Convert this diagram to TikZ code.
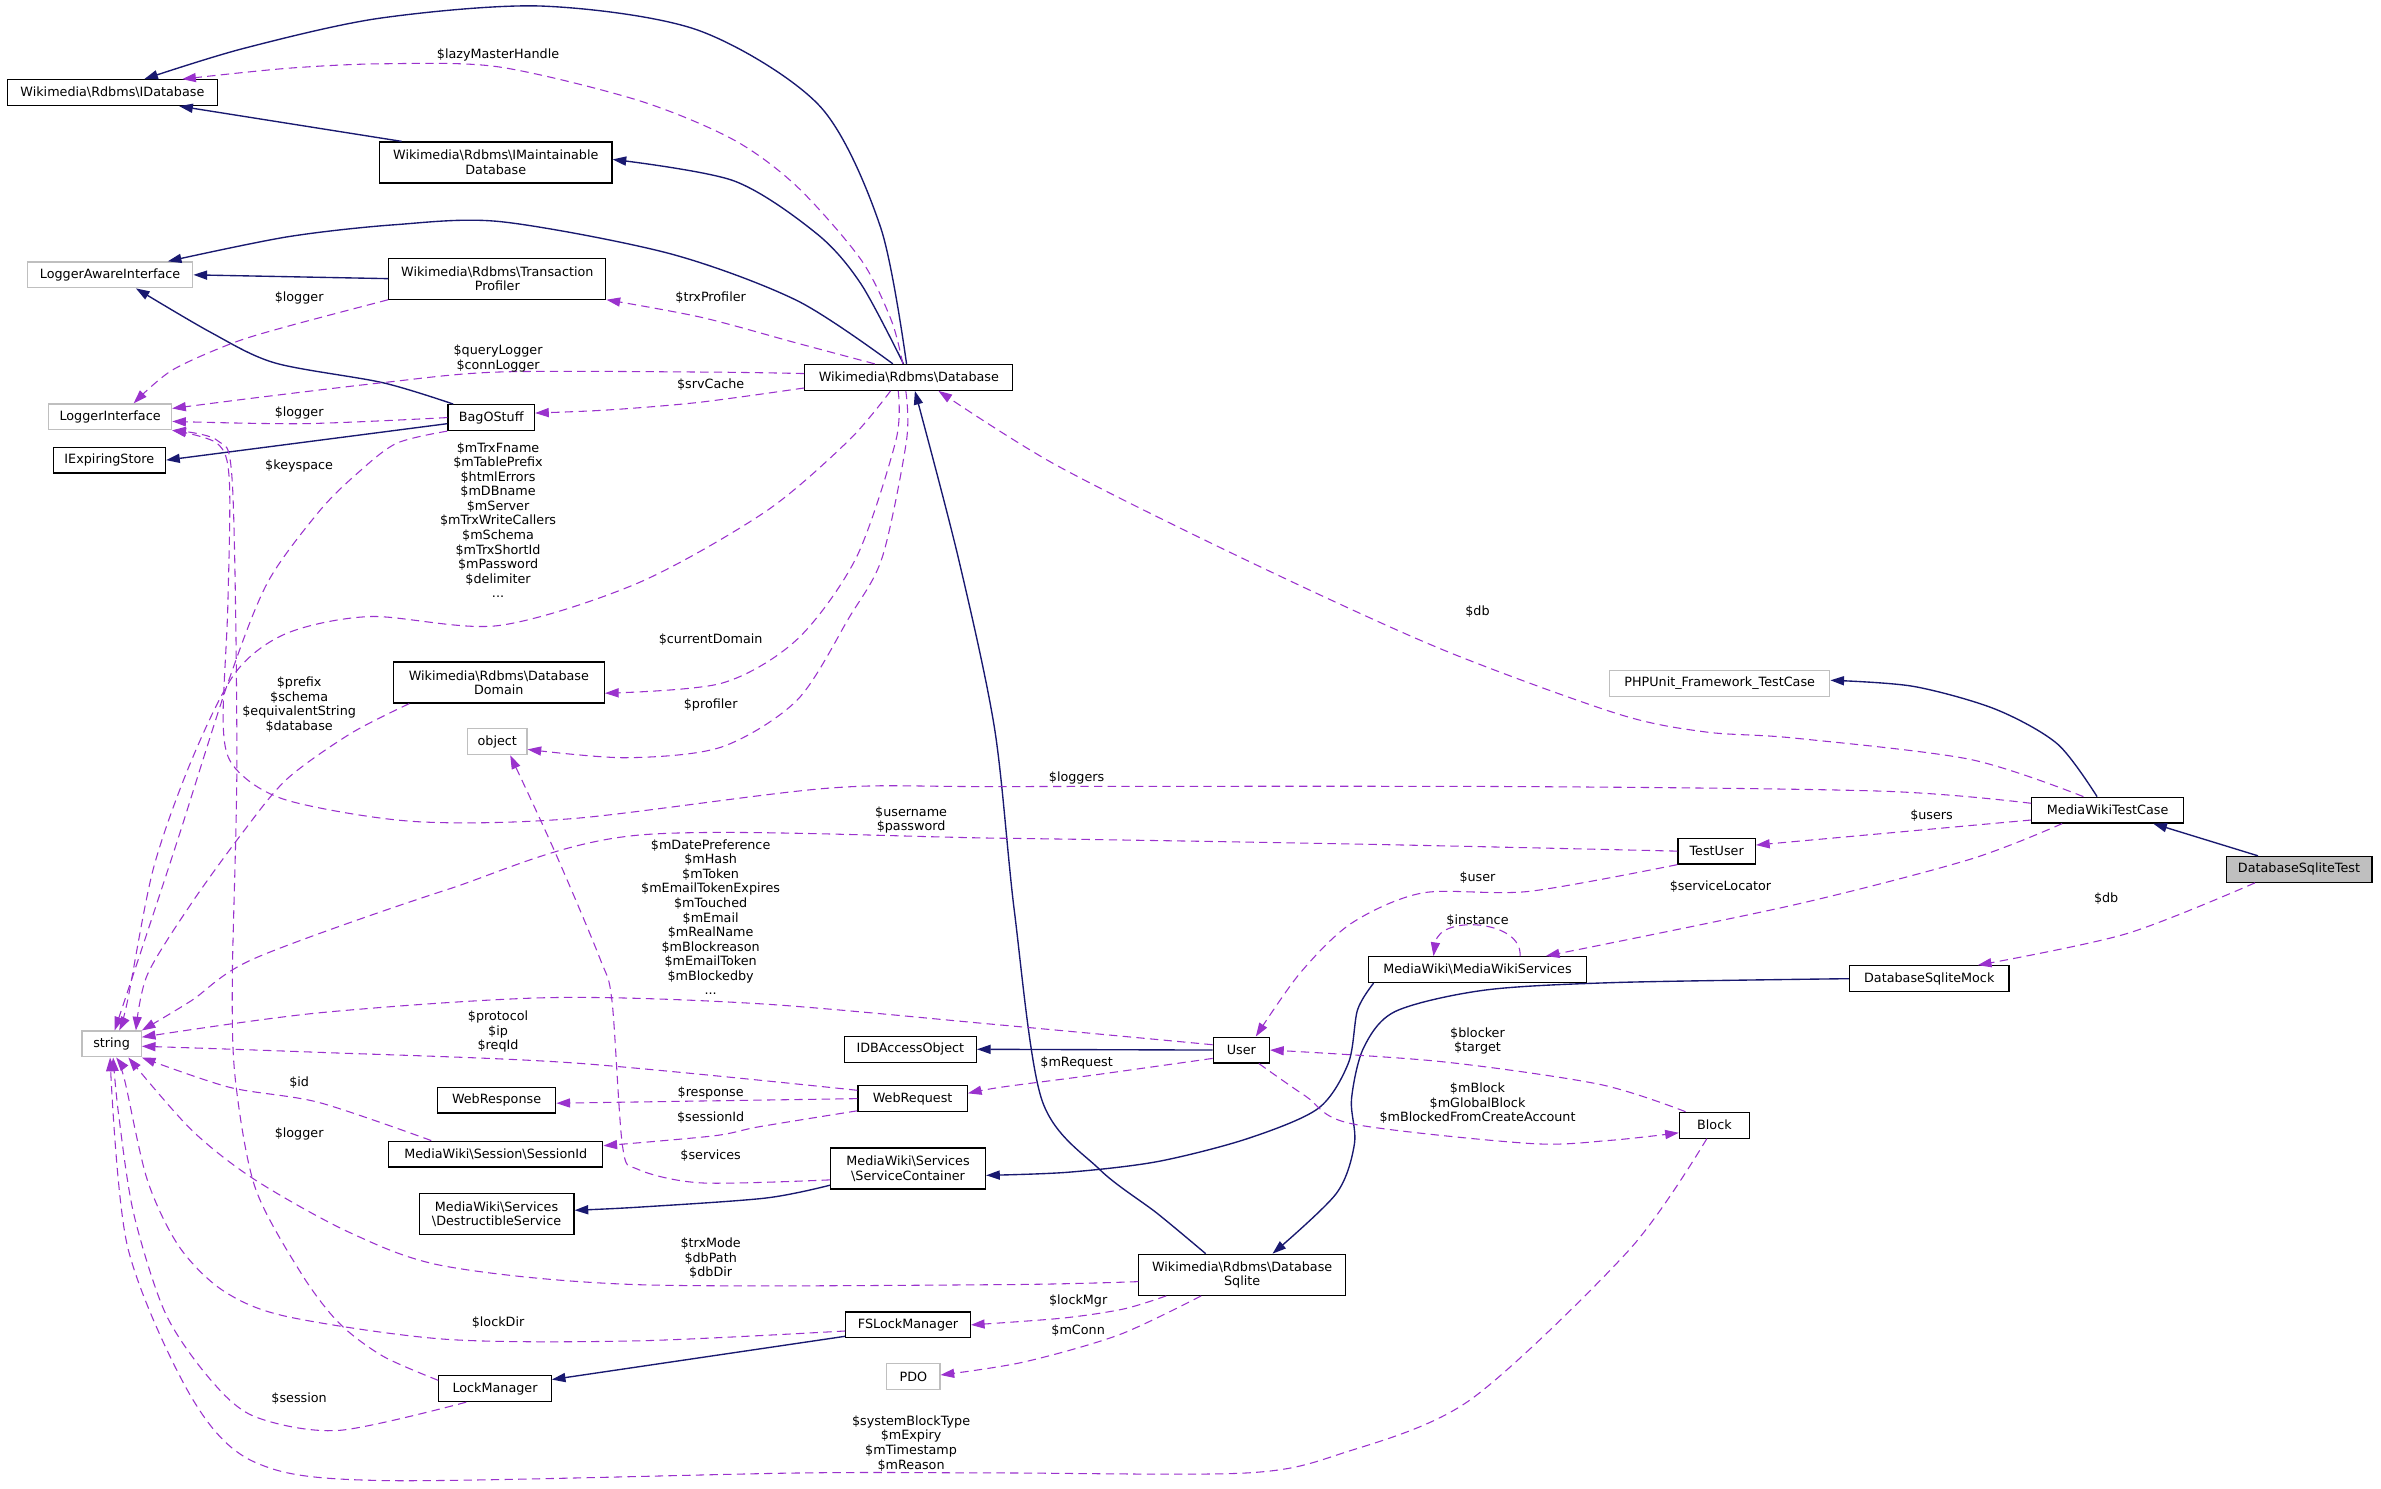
\documentclass[tikz,border=0pt]{standalone}
\usepackage{fontspec}
\setmainfont{DejaVu Sans}
\usetikzlibrary{arrows.meta}
\definecolor{inhblue}{RGB}{25,25,112}
\definecolor{usepurple}{RGB}{154,50,205}
\definecolor{extgray}{RGB}{191,191,191}
\newcommand{\bsl}{\textbackslash}
\newcommand{\lblfont}{\fontsize{8.4}{9.6}\selectfont}
\tikzset{
  cls/.style={draw=black, line width=0.8pt, fill=white, minimum height=17pt, inner xsep=2pt, inner ysep=2pt, align=center, font=\lblfont},
  tall/.style={minimum height=27pt},
  ext/.style={cls, draw=extgray},
  focus/.style={cls, fill=extgray},
  inh/.style={draw=inhblue, line width=0.9pt, -{Triangle[length=9pt,width=6pt]}},
  use/.style={draw=usepurple, line width=0.7pt, dash pattern=on 5.5pt off 3.5pt, -{Triangle[length=9pt,width=6pt]}},
  lbl/.style={font=\lblfont, align=center, inner sep=0pt}
}

\begin{document}
\begin{tikzpicture}[x=1pt, y=-1pt]
  \path[use as bounding box, fill=white] (0,0) rectangle (1568,980);

  % Classes
  \node[cls, minimum width=138pt] (idb) at (74,61) {Wikimedia\bsl Rdbms\bsl IDatabase};
  \node[cls, tall, minimum width=153pt] (imaint) at (326.5,107) {Wikimedia\bsl Rdbms\bsl IMaintainable\\Database};
  \node[ext, minimum width=109pt] (lai) at (72.5,181) {LoggerAwareInterface};
  \node[cls, tall, minimum width=143pt] (tprof) at (327.5,183.5) {Wikimedia\bsl Rdbms\bsl Transaction\\Profiler};
  \node[ext, minimum width=81pt] (li) at (72.5,274.5) {LoggerInterface};
  \node[cls, minimum width=57pt] (bag) at (323.5,275) {BagOStuff};
  \node[cls, minimum width=74pt] (ies) at (72,303) {IExpiringStore};
  \node[cls, minimum width=137pt] (db) at (598.5,248.5) {Wikimedia\bsl Rdbms\bsl Database};
  \node[cls, tall, minimum width=139pt] (dom) at (328.5,449.5) {Wikimedia\bsl Rdbms\bsl Database\\Domain};
  \node[ext, minimum width=39pt] (obj) at (327.5,488.5) {object};
  \node[ext, minimum width=145pt] (phpu) at (1132.5,450) {PHPUnit\_Framework\_TestCase};
  \node[cls, minimum width=100pt] (mwtc) at (1388,533.5) {MediaWikiTestCase};
  \node[cls, minimum width=51pt] (tuser) at (1130.5,560.5) {TestUser};
  \node[focus, minimum width=96pt] (dst) at (1514,572.5) {DatabaseSqliteTest};
  \node[cls, minimum width=144pt] (mws) at (973,638.5) {MediaWiki\bsl MediaWikiServices};
  \node[cls, minimum width=105pt] (dsm) at (1270.5,644.5) {DatabaseSqliteMock};
  \node[ext, minimum width=39pt] (str) at (73.5,687.5) {string};
  \node[cls, minimum width=87pt] (idbao) at (599.5,691) {IDBAccessObject};
  \node[cls, minimum width=37pt] (user) at (817.5,691.5) {User};
  \node[cls, minimum width=78pt] (wresp) at (327,724.5) {WebResponse};
  \node[cls, minimum width=72pt] (wreq) at (601,723.5) {WebRequest};
  \node[cls, minimum width=141pt] (sid) at (326.5,760) {MediaWiki\bsl Session\bsl SessionId};
  \node[cls, tall, minimum width=102pt] (sc) at (598,769.5) {MediaWiki\bsl Services\\\bsl ServiceContainer};
  \node[cls, minimum width=46pt] (block) at (1129,741) {Block};
  \node[cls, tall, minimum width=102pt] (destr) at (327,799.5) {MediaWiki\bsl Services\\\bsl DestructibleService};
  \node[cls, tall, minimum width=136pt] (dbsql) at (818,839.5) {Wikimedia\bsl Rdbms\bsl Database\\Sqlite};
  \node[cls, minimum width=82pt] (fslm) at (598,872.5) {FSLockManager};
  \node[ext, minimum width=35pt] (pdo) at (601.5,906.5) {PDO};
  \node[cls, minimum width=74pt] (lm) at (326,914.5) {LockManager};

  % Inheritance
  \draw[inh] plot[smooth] coordinates {([xshift=-1.5pt]db.north) (580,150) (540,70) (460,20) (357,4) (250,12) (160,32) ([xshift=21pt]idb.north)};
  \draw[inh] ([xshift=-62pt]imaint.north) -- ([xshift=44pt]idb.south);
  \draw[inh] plot[smooth] coordinates {([xshift=-3.5pt]db.north) (567,187) (538,154) (483,119) ([yshift=2pt]imaint.east)};
  \draw[inh] plot[smooth] coordinates {([xshift=-10.5pt]db.north) (525,198) (441,167) (330,146) (260,148) (189,156) ([xshift=38pt]lai.north)};
  \draw[inh] (tprof.west) -- (lai.east);
  \draw[inh] plot[smooth] coordinates {([xshift=-25pt]bag.north) (252,252) (181,239) (139,219) ([xshift=17pt]lai.south)};
  \draw[inh] ([yshift=-4pt]bag.west) -- (ies.east);
  \draw[inh] plot[smooth] coordinates {([xshift=-7pt]mwtc.north) (1355,490) (1314,467) (1260,452) ([yshift=2pt]phpu.east)};
  \draw[inh] ([xshift=-27pt]dst.north) -- ([xshift=30pt]mwtc.south);
  \draw[inh] (user.west) -- (idbao.east);
  \draw[inh] plot[smooth] coordinates {([yshift=-11pt]sc.west) (504,789) (420,795) ([yshift=2.5pt]destr.east)};
  \draw[inh] plot[smooth] coordinates {([xshift=-24pt]dbsql.north) (762,799) (724,770) (686,724) (668,600) (655,480) (631,367) ([xshift=4pt]db.south)};
  \draw[inh] plot[smooth] coordinates {([xshift=4pt]mws.south west) (894,665) (888,700) (868,730) (821,750) (762,765) (703,772) ([yshift=-4.5pt]sc.east)};
  \draw[inh] plot[smooth] coordinates {(dsm.west) (1065,647) (978,652) (919,666) (898,690) (890,724) (892,753) (880,786) ([xshift=20pt]dbsql.north)};
  \draw[inh] ([yshift=-7.5pt]fslm.west) -- ([yshift=6pt]lm.east);

  % Members
  \draw[use] plot[smooth] coordinates {([xshift=-4pt]db.north) (587,211) (567,171) (525,123) (483,92) (420,66) (328,44) (252,42) (189,45) ([xshift=46pt]idb.north)};
  \draw[use] plot[smooth] coordinates {([xshift=-22.5pt]db.north) (525,226) (462,209) (tprof.south east)};
  \draw[use] plot[smooth] coordinates {([yshift=2.5pt]db.west) (462,245) (328,245) (252,252) (168,262) ([yshift=5.5pt]li.east)};
  \draw[use] plot[smooth] coordinates {(tprof.south west) (189,215) (153,226) (113,244) ([xshift=15.5pt]li.north)};
  \draw[use] plot[smooth] coordinates {(bag.west) (200,279) ([yshift=-3pt]li.east)};
  \draw[use] plot[smooth] coordinates {([yshift=-7pt]db.west) (460,265) (400,270) ([yshift=3pt]bag.east)};
  \draw[use] plot[smooth] coordinates {(bag.south west) (261,292) (235,312) (210,337) (176,384) (150,450) (118,550) (95,620) ([xshift=2pt]str.north)};
  \draw[use] plot[smooth] coordinates {([xshift=-12pt]db.south) (559,290) (504,337) (420,384) (328,412) (244,406) (189,417) (155,443) (126,501) (101,572) (84,659) ([xshift=5pt]str.north)};
  \draw[use] plot[smooth] coordinates {([xshift=-7pt]db.south) (590,290) (564,367) (525,421) (475,450) ([yshift=-7pt]dom.east)};
  \draw[use] plot[smooth] coordinates {([xshift=-2pt]db.south) (597,290) (581,367) (559,407) (525,461) (475,492) (412,499) ([yshift=-5pt]obj.east)};
  \draw[use] plot[smooth] coordinates {([xshift=-59pt]dom.south) (231,483) (189,513) (160,548) (126,595) (97,642) ([xshift=16pt]str.north)};
  \draw[use] plot[smooth] coordinates {([xshift=-16pt]mwtc.north) (1297,500) (1181,486) (1123,482) (1065,470) (948,427) (821,369) (695,306) ([xshift=19.5pt]db.south)};
  \draw[use] plot[smooth] coordinates {([yshift=4.5pt]mwtc.west) (1239,521) (1000,518) (659,518) (546,519) (378,539) (273,541) (189,527) (155,506) (147,478) (150,400) (151,316) (143,292) (li.south east)};
  \draw[use] plot[smooth] coordinates {(tuser.west) (900,556) (659,552) (420,550) (294,586) (168,631) (126,659) (str.north east)};
  \draw[use] plot[smooth] coordinates {([yshift=3.5pt]user.west) (659,675) (500,661) (361,657) (210,667) ([yshift=4.5pt]str.east)};
  \draw[use] plot[smooth] coordinates {([yshift=5.5pt]wreq.west) (378,700) (210,693) ([yshift=-1.5pt]str.east)};
  \draw[use] (wreq.west) -- ([yshift=-2pt]wresp.east);
  \draw[use] plot[smooth] coordinates {([yshift=-8pt]wreq.west) (500,742) (470,748) ([yshift=5.5pt]sid.east)};
  \draw[use] plot[smooth] coordinates {([xshift=-42.5pt]sid.north) (210,726) (151,716) (str.south east)};
  \draw[use] plot[smooth] coordinates {([yshift=-5.5pt]user.west) (720,708) (659,716) ([yshift=3.5pt]wreq.east)};
  \draw[use] plot[smooth] coordinates {([xshift=11.5pt]user.south) (860,722) (890,740) (1007,753) (1060,751) ([yshift=-5pt]block.west)};
  \draw[use] plot[smooth] coordinates {([xshift=-19pt]block.north) (1053,714) (948,699) (user.east)};
  \draw[use] ([yshift=-6.5pt]mwtc.west) -- ([yshift=4pt]tuser.east);
  \draw[use] plot[smooth] coordinates {(tuser.south west) (1007,587) (937,588) (890,608) (856,641) ([xshift=9.5pt]user.north)};
  \draw[use] plot[smooth] coordinates {([xshift=-30pt]mwtc.south) (1297,566) (1181,596) ([xshift=45pt]mws.north)};
  \draw[use] ([xshift=28pt]mws.north) .. controls (1003,606) and (948,602) .. ([xshift=-29pt]mws.north);
  \draw[use] plot[smooth] coordinates {([xshift=-29pt]dst.south) (1400,615) ([xshift=32pt]dsm.north)};
  \draw[use] plot[smooth] coordinates {([yshift=-7.5pt]sc.west) (462,779) (420,770) (410,755) (403,659) (395,631) (365,560) ([xshift=8.5pt]obj.south)};
  \draw[use] plot[smooth] coordinates {([yshift=-4.5pt]dbsql.west) (659,846) (420,846) (294,834) (231,812) (168,777) (126,744) ([xshift=11pt]str.south)};
  \draw[use] plot[smooth] coordinates {([xshift=-50pt]dbsql.south) (740,862) (700,868) (fslm.east)};
  \draw[use] plot[smooth] coordinates {([xshift=-27pt]dbsql.south) (737,879) (674,897) ([yshift=1pt]pdo.east)};
  \draw[use] plot[smooth] coordinates {([yshift=-4pt]fslm.west) (420,883) (294,882) (189,867) (147,850) (118,821) (97,777) (82,711) ([xshift=3pt]str.south)};
  \draw[use] plot[smooth] coordinates {([yshift=5.5pt]lm.west) (252,893) (223,871) (198,838) (168,782) (155,711) (153,645) (156,500) (153,318) (143,290) (li.south east)};
  \draw[use] plot[smooth] coordinates {([xshift=-19pt]lm.south) (223,942) (168,933) (139,909) (109,865) (88,799) (78,733) ([xshift=1pt]str.south)};
  \draw[use] plot[smooth] coordinates {([xshift=-5pt]block.south) (1073,823) (968,922) (884,957) (821,970) (659,970) (527,970) (252,975) (168,963) (126,920) (84,821) ([xshift=-1pt]str.south)};

  % Member labels
  \node[lbl] (l-lazy) at (328,36) {\$lazyMasterHandle};
  \node[lbl] (l-trxprof) at (468,196) {\$trxProfiler};
  \node[lbl] (l-tplogger) at (197,196) {\$logger};
  \node[lbl] (l-querylog) at (328,236) {\$queryLogger\\\$connLogger};
  \node[lbl] (l-srvcache) at (468,253) {\$srvCache};
  \node[lbl] (l-baglogger) at (197,272) {\$logger};
  \node[lbl] (l-keyspace) at (197,307) {\$keyspace};
  \node[lbl] (l-trxfname) at (328,342.5) {\$mTrxFname\\\$mTablePrefix\\\$htmlErrors\\\$mDBname\\\$mServer\\\$mTrxWriteCallers\\\$mSchema\\\$mTrxShortId\\\$mPassword\\\$delimiter\\...};
  \node[lbl] (l-curdom) at (468,421) {\$currentDomain};
  \node[lbl] (l-profiler) at (468,464) {\$profiler};
  \node[lbl] (l-prefix) at (197,464) {\$prefix\\\$schema\\\$equivalentString\\\$database};
  \node[lbl] (l-db) at (973,403) {\$db};
  \node[lbl] (l-loggers) at (709,512) {\$loggers};
  \node[lbl] (l-username) at (600,540) {\$username\\\$password};
  \node[lbl] (l-users) at (1272,537) {\$users};
  \node[lbl] (l-user) at (973,578) {\$user};
  \node[lbl] (l-svcloc) at (1133,584) {\$serviceLocator};
  \node[lbl] (l-instance) at (973,606) {\$instance};
  \node[lbl] (l-dsmdb) at (1387,592) {\$db};
  \node[lbl] (l-datepref) at (468,604) {\$mDatePreference\\\$mHash\\\$mToken\\\$mEmailTokenExpires\\\$mTouched\\\$mEmail\\\$mRealName\\\$mBlockreason\\\$mEmailToken\\\$mBlockedby\\...};
  \node[lbl] (l-protocol) at (328,679.5) {\$protocol\\\$ip\\\$reqId};
  \node[lbl] (l-blocker) at (973,685.5) {\$blocker\\\$target};
  \node[lbl] (l-mrequest) at (709,700) {\$mRequest};
  \node[lbl] (l-response) at (468,720) {\$response};
  \node[lbl] (l-id) at (197,713) {\$id};
  \node[lbl] (l-sessionid) at (468,736) {\$sessionId};
  \node[lbl] (l-mblock) at (973,726.5) {\$mBlock\\\$mGlobalBlock\\\$mBlockedFromCreateAccount};
  \node[lbl] (l-lmlogger) at (197,747) {\$logger};
  \node[lbl] (l-services) at (468,761) {\$services};
  \node[lbl] (l-trxmode) at (468,828.5) {\$trxMode\\\$dbPath\\\$dbDir};
  \node[lbl] (l-lockmgr) at (710,857) {\$lockMgr};
  \node[lbl] (l-lockdir) at (328,871) {\$lockDir};
  \node[lbl] (l-mconn) at (710,876) {\$mConn};
  \node[lbl] (l-session) at (197,921) {\$session};
  \node[lbl] (l-sysblock) at (600,950.5) {\$systemBlockType\\\$mExpiry\\\$mTimestamp\\\$mReason};
\end{tikzpicture}
\end{document}
